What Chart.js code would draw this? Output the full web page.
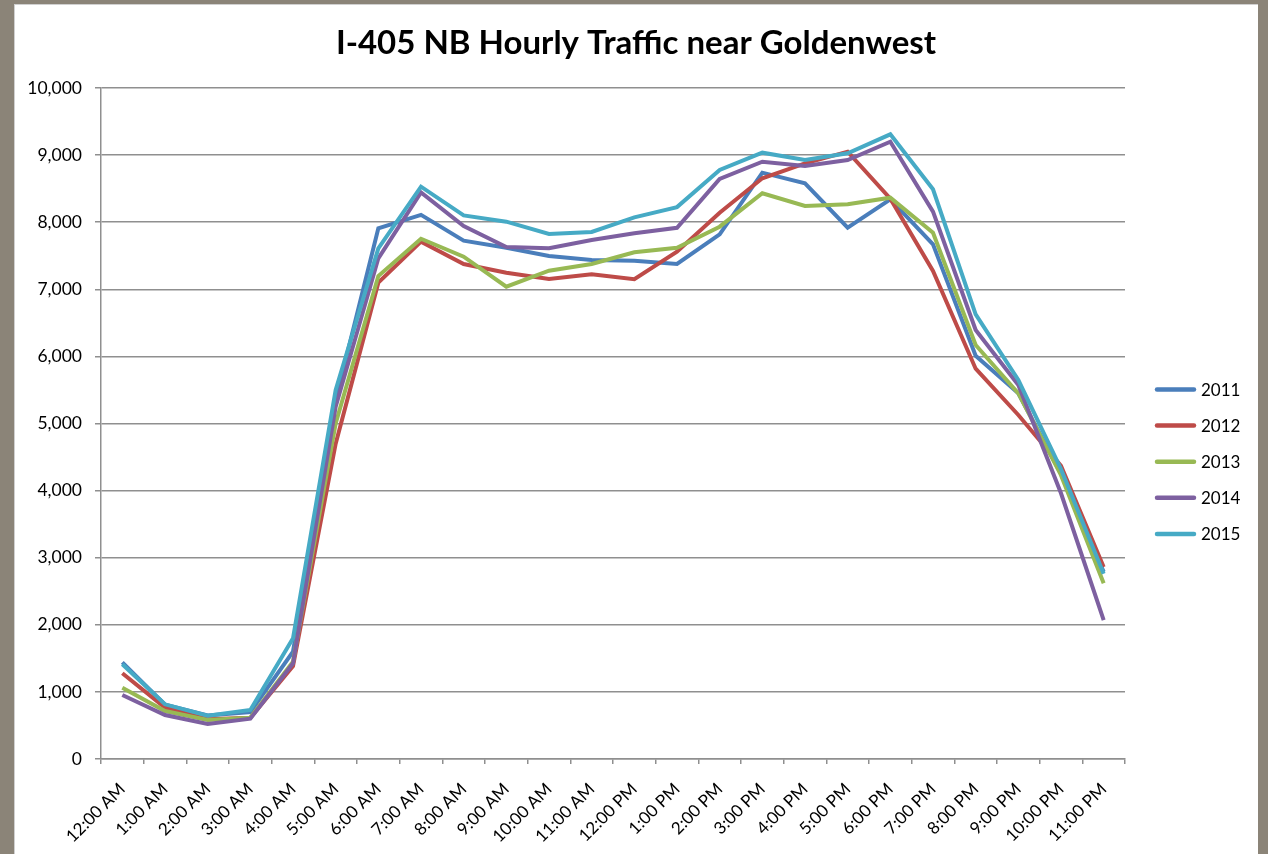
<!DOCTYPE html>
<html>
<head>
<meta charset="utf-8">
<script src="https://cdn.jsdelivr.net/npm/chart.js@4.4.1/dist/chart.umd.min.js"></script>
<style>
  html, body { margin: 0; padding: 0; }
  body { width: 1268px; height: 854px; background: #8b8478; position: relative; overflow: hidden; }
  #panel { position: absolute; left: 14px; top: 4px; width: 1244px; height: 850px; background: #ffffff; box-shadow: inset 1px 1px 0 #d0d0d0; }
  canvas { position: absolute; left: 0; top: 0; }
</style>
</head>
<body>
<div id="panel"><canvas id="chart" width="1244" height="850"></canvas></div>
<script>
// Hour-of-day categories
const hours = ['12:00 AM', '1:00 AM', '2:00 AM', '3:00 AM', '4:00 AM', '5:00 AM', '6:00 AM', '7:00 AM',
  '8:00 AM', '9:00 AM', '10:00 AM', '11:00 AM', '12:00 PM', '1:00 PM', '2:00 PM', '3:00 PM',
  '4:00 PM', '5:00 PM', '6:00 PM', '7:00 PM', '8:00 PM', '9:00 PM', '10:00 PM', '11:00 PM'];

const years = ['2011', '2012', '2013', '2014', '2015'];

// Vehicles per hour, by year
const v2011 = [1440, 810, 650, 700, 1600, 5350, 7910, 8110, 7725, 7620, 7496, 7437, 7427, 7377, 7820, 8738, 8580, 7918, 8341, 7670, 6010, 5450, 4250, 2790];
const v2012 = [1277, 765, 591, 616, 1386, 4700, 7099, 7710, 7377, 7248, 7154, 7223, 7149, 7560, 8142, 8654, 8878, 9051, 8350, 7273, 5817, 5127, 4370, 2860];
const v2013 = [1063, 715, 581, 616, 1450, 5000, 7198, 7754, 7486, 7039, 7277, 7377, 7551, 7620, 7933, 8431, 8241, 8267, 8365, 7844, 6170, 5450, 4230, 2618];
const v2014 = [954, 656, 522, 600, 1426, 5250, 7462, 8445, 7943, 7630, 7611, 7735, 7834, 7916, 8644, 8902, 8838, 8927, 9200, 8157, 6393, 5574, 3960, 2071];
const v2015 = [1411, 815, 646, 730, 1798, 5500, 7611, 8529, 8102, 8008, 7824, 7854, 8072, 8225, 8778, 9036, 8927, 9027, 9310, 8490, 6627, 5648, 4320, 2760];

const yTicks = [0, 1000, 2000, 3000, 4000, 5000, 6000, 7000, 8000, 9000, 10000];

const titleText = 'I-405 NB Hourly Traffic near Goldenwest';
const colors = ['#4a7ebb', '#be4b48', '#98b954', '#7d60a0', '#46aac5'];
const seriesValues = [v2011, v2012, v2013, v2014, v2015];

const FONT = 'Lato, "Open Sans", sans-serif';
const GRID = '#8f8f8f';

const datasets = years.map((y, i) => ({
  label: y,
  data: seriesValues[i],
  borderColor: colors[i],
  backgroundColor: colors[i],
  borderWidth: 4,
  pointRadius: 0,
  tension: 0,
  fill: false,
  order: years.length - i   // later years painted on top
}));

// Title drawn centred over the whole panel
const titlePlugin = {
  id: 'panelTitle',
  afterDraw(chart) {
    const ctx = chart.ctx;
    ctx.save();
    ctx.font = 'bold 33px ' + FONT;
    ctx.fillStyle = '#000';
    ctx.textAlign = 'center';
    ctx.textBaseline = 'middle';
    ctx.fillText(titleText, chart.width / 2, 39);
    ctx.restore();
  }
};

// Legend on the right: a short line swatch followed by the series name
const sideLegend = {
  id: 'sideLegend',
  afterDraw(chart) {
    const ctx = chart.ctx;
    const x0 = chart.chartArea.right + 32;
    const top = 385.5, step = 36.1;
    ctx.save();
    ctx.font = '17px ' + FONT;
    ctx.textBaseline = 'middle';
    ctx.textAlign = 'left';
    chart.data.datasets.forEach((ds, i) => {
      const y = top + i * step;
      ctx.strokeStyle = ds.borderColor;
      ctx.lineWidth = 4.5;
      ctx.lineCap = 'round';
      ctx.beginPath();
      ctx.moveTo(x0, y);
      ctx.lineTo(x0 + 37, y);
      ctx.stroke();
      ctx.fillStyle = '#000';
      ctx.fillText(ds.label, x0 + 44, y + 1);
    });
    ctx.restore();
  }
};

new Chart(document.getElementById('chart'), {
  type: 'line',
  data: { labels: hours, datasets },
  plugins: [titlePlugin, sideLegend],
  options: {
    responsive: false,
    animation: false,
    layout: { padding: { top: 84, right: 133, left: 0, bottom: 0 } },
    plugins: {
      legend: { display: false },
      title: { display: false },
      tooltip: { enabled: false }
    },
    scales: {
      x: {
        type: 'category',
        offset: true,
        grid: { offset: true, drawOnChartArea: false, drawTicks: true, tickLength: 5, color: GRID, lineWidth: 1.5 },
        border: { color: GRID, width: 1.5 },
        ticks: {
          autoSkip: false, maxRotation: 45, minRotation: 45, padding: 15,
          color: '#000', font: { family: FONT, size: 17 }
        },
        afterFit(scale) { scale.height = 95; }
      },
      y: {
        min: yTicks[0],
        max: yTicks[yTicks.length - 1],
        afterBuildTicks(scale) { scale.ticks = yTicks.map(v => ({ value: v })); },
        grid: { color: GRID, lineWidth: 1.5, tickLength: 6, drawTicks: true },
        border: { color: GRID, width: 1.5 },
        ticks: {
          padding: 13, color: '#000', font: { family: FONT, size: 17.5 },
          callback: v => Number(v).toLocaleString('en-US')
        },
        afterFit(scale) { scale.width = 87; }
      }
    }
  }
});
</script>
</body>
</html>
